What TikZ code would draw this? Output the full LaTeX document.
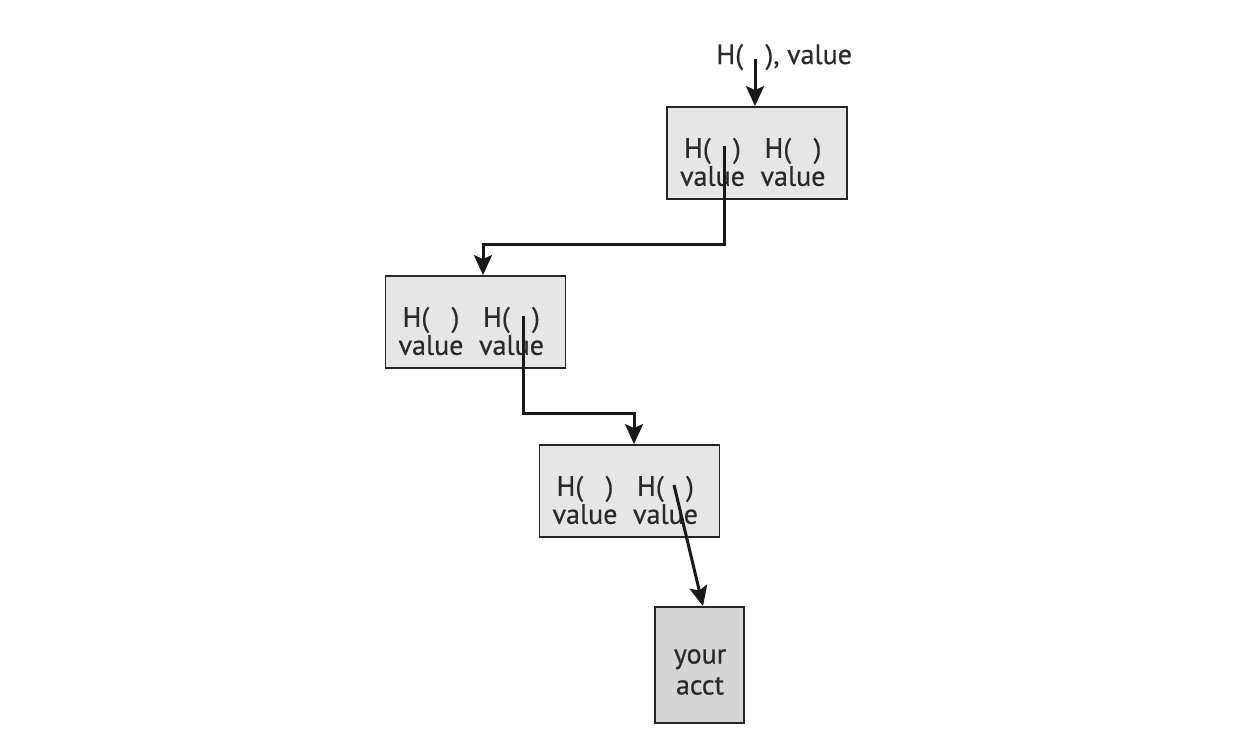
\documentclass[tikz,border=0pt]{standalone}
\usepackage{fontspec}
\setmainfont{PT Sans}
\newfontfamily\slotfont{PT Sans}[FakeBold=0.5]
\usetikzlibrary{arrows.meta}
\definecolor{boxgray}{HTML}{E6E6E6}
\definecolor{acctgray}{HTML}{D5D5D5}
\definecolor{inkgray}{HTML}{2A2A2A}
\begin{document}
\begin{tikzpicture}[x=0.5pt,y=-0.5pt,
        hashbox/.style={draw=black!85,line width=0.9pt,fill=boxgray,minimum width=90pt,minimum height=46pt,inner sep=0pt},
        acctbox/.style={draw=black!85,line width=0.9pt,fill=acctgray,minimum width=44.5pt,minimum height=58pt,inner sep=0pt,align=center,text=inkgray,font=\slotfont\fontsize{14}{15.5}\selectfont},
        slot/.style={inner sep=0pt,align=center,text=inkgray,font=\slotfont\fontsize{14}{14}\selectfont},
        ptr/.style={line width=1.5pt,draw=black!90,-{Stealth[length=10pt,width=9pt,inset=2pt]}}]
    \useasboundingbox (0,0) rectangle (1242,735);
    \node[hashbox] (b1) at (757,153) {};
    \node[hashbox] (b2) at (475.5,322) {};
    \node[hashbox] (b3) at (629.5,491) {};
    \node[acctbox] (b4) at (699.5,665) {};
    \node[acctbox,draw=none,fill=none,minimum width=0pt,minimum height=0pt] (acct) at (700,672) {your\\acct};
    \foreach \b in {b1,b2,b3} {
        \node[slot] (\b l) at ([xshift=-22.25pt,yshift=-4.5pt]\b.center) {H(\hspace{0.8em})\\value};
        \node[slot] (\b r) at ([xshift=18pt,yshift=-4.5pt]\b.center) {H(\hspace{0.8em})\\value};
    }
    \node[slot,anchor=base west] (hin) at (716,64) {H(\hspace{0.8em}), value};
    \coordinate (p0) at (755,59);
    \coordinate (p1) at (724,146);
    \coordinate (p2) at (523,316);
    \coordinate (p3) at (674,485);
    \coordinate (k1) at (483,244);
    \coordinate (k2) at (634,413);
    \draw[ptr] (p0) -- (p0 |- b1.north);
    \draw[ptr] (p1) |- (k1) -- (k1 |- b2.north);
    \draw[ptr] (p2) |- (k2) -- (k2 |- b3.north);
    \draw[ptr] (p3) -- ([xshift=1.75pt]b4.north);
\end{tikzpicture}
\end{document}
